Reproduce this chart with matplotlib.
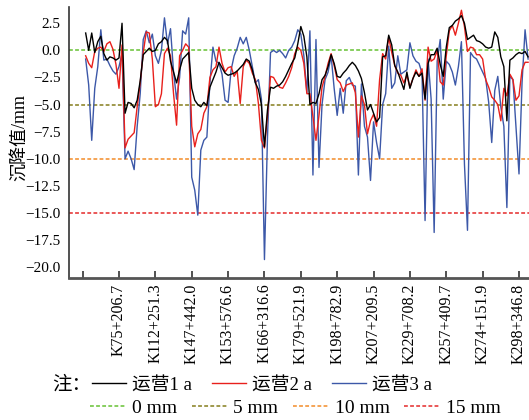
import numpy as np
import matplotlib
matplotlib.use("Agg")
import matplotlib.pyplot as plt
from matplotlib.ticker import FixedLocator, FuncFormatter

plt.rcParams['font.family'] = ['Liberation Serif', 'Noto Sans CJK SC', 'DejaVu Sans']
plt.rcParams['axes.unicode_minus'] = True

# Settlement (mm) of three operating years along the line (sample index)
op1 = [1.6, 0.0, 1.6, -0.2, 0.8, 1.3, -0.3, -0.9, -0.6, -0.7,
       -0.9, -0.7, 2.5, -5.8, -4.8, -4.9, -5.3, -4.6, -2.8, -0.4,
       -0.1, 0.2, -0.1, 0.0, 0.6, 0.8, 1.2, 0.9, -1.0, -2.0,
       -3.0, -1.8, -0.8, -0.5, -0.2, -3.5, -4.6, -5.0, -5.2, -4.8,
       -5.1, -3.4, -2.7, -2.0, -1.1, -1.6, -2.1, -2.3, -2.2, -2.1,
       -1.9, -1.6, -1.3, -0.8, -1.0, -1.8, -3.0, -3.6, -5.0, -8.9,
       -5.5, -3.4, -3.5, -3.3, -3.2, -2.9, -2.4, -1.8, -1.2, -0.7,
       0.6, 2.2, 1.3, -0.6, -5.0, -4.8, -4.9, -4.0, -2.7, -2.3,
       -1.5, -0.4, -1.2, -2.4, -2.5, -2.1, -1.8, -1.4, -1.1, -1.4,
       -1.9, -2.6, -3.9, -5.5, -5.0, -5.8, -6.6, -6.2, -0.6, -0.5,
       1.4, 0.5, -1.4, -2.0, -2.8, -3.6, -2.0, -3.5, -2.6, -2.0,
       -2.4, -2.1, -4.5, -1.2, -0.4, -0.4, 0.2, -1.3, -2.4, 0.3,
       2.1, 2.3, 2.7, 2.9, 3.2, 2.5, 1.0, 1.2, 1.4, 0.9,
       0.8, 0.6, 0.3, 0.2, 0.3, 1.7, 1.2, -0.6, -1.5, -6.5,
       -0.9, -0.7, -0.4, -0.2, -0.3, -0.1, -0.6]

op2 = [-0.5, -1.2, -1.6, -0.1, 0.2, 0.3, -0.1, 0.6, 0.8, 0.1,
       -1.3, -3.5, 0.5, -9.0, -8.2, -7.9, -7.6, -5.2, -3.0, -0.2,
       1.7, 1.6, -0.8, -5.2, -5.0, -4.0, -0.3, 0.2, -0.5, -4.0,
       -6.9, -0.5, 0.0, 0.6, 0.3, -7.0, -8.9, -7.7, -7.3, -5.8,
       -5.2, -2.5, -1.8, -1.5, 0.3, -1.2, -2.0, -1.6, -1.5, -2.4,
       -1.9, -4.9, -1.5, -0.9, -1.2, -2.1, -2.7, -4.9, -8.3, -9.0,
       -6.0, -2.4, -2.5, -3.0, -3.4, -3.5, -3.0, -2.4, -1.6, -0.3,
       0.3, 0.0, -1.2, -4.0, -4.0, -6.1, -8.3, -6.0, -3.4, -2.4,
       -1.2, -0.3, -1.4, -2.7, -3.0, -3.8, -3.2, -3.1, -3.0, -3.9,
       -8.0, -4.2, -5.0, -7.7, -6.5, -5.9, -7.0, -2.7, -0.3, -0.8,
       1.2, -0.2, -1.4, -2.1, -2.3, -3.0, -2.3, -3.4, -2.6, -1.8,
       -2.4, -1.7, -4.6, 0.3, -1.0, -0.8, 0.0, -2.9, -3.2, -0.5,
       1.8, 2.3, 1.4, 2.5, 3.7, 2.2, -0.1, 0.3, 0.2, -0.4,
       -0.4, -0.8, -2.7, -3.4, -4.3, -4.6, -5.0, -6.5, -3.5, -4.2,
       -2.2, -2.7, -4.6, -4.2, -1.8, -1.1, -1.1]

op3 = [-0.8, -3.2, -8.3, -3.5, -1.5, 1.9, -0.9, -0.8, -1.4, -1.9,
       -2.2, -1.5, -0.3, -10.0, -9.3, -10.0, -11.0, -7.0, -4.0, 1.0,
       1.8, 0.7, 1.5, -0.5, -1.2, 0.0, 3.0, 0.6, 2.0, -2.0,
       -4.5, -2.5, 1.8, 1.5, 3.0, -11.7, -12.9, -15.2, -9.2, -8.3,
       -8.0, -3.0, 0.3, -1.0, -1.2, -2.2, -4.6, -4.8, -1.8, -0.5,
       0.2, 1.2, 0.6, 1.2, 0.0, -1.5, -3.0, -2.7, -4.5, -19.3,
       -8.0, -0.2, 0.0, -0.2, 0.0, -0.3, -0.7, 0.0, 0.3, 0.9,
       1.9, 1.5, -0.5, -3.9, 1.8, -11.5, 1.0, -10.8, -5.0, -2.7,
       -2.0, -0.5, -3.5, -6.0, -3.5, -5.8, -2.8, -2.5, -3.2, -3.3,
       -11.5, -3.1, -7.0, -8.0, -12.0, -6.6, -8.5, -10.0, -5.0, -4.0,
       0.4, -3.5, -3.0, -0.5, -2.2, -2.0, -1.8, 0.7, -0.5, -1.0,
       -1.2, -2.1, -15.7, -0.8, -4.5, -16.8, -1.0, 1.0, -4.5, -1.0,
       -1.3, -2.0, -3.2, -1.5, 0.8, -10.5, -16.6, -0.2, -0.6, -0.8,
       -1.4, -2.0, -2.6, -4.8, -8.5, -3.7, -2.4, -5.2, -7.0, -14.5,
       -2.4, -2.7, -7.0, -11.4, -3.0, 1.9, -0.8]

series_labels = ['运营1 a', '运营2 a', '运营3 a']
series_colors = ['#000000', '#e8201c', '#3c58a8']

thresholds = [0, -5, -10, -15]
threshold_labels = ['0 mm', '5 mm', '10 mm', '15 mm']
threshold_colors = ['#66c133', '#857d1c', '#f28c28', '#e42a2a']

xtick_pos = [0, 12, 24, 36, 48, 60, 72, 84, 96, 108, 120, 132, 144]
xtick_labels = ['', 'K75+206.7', 'K112+251.3', 'K147+442.0', 'K153+576.6',
                'K166+316.6', 'K179+521.9', 'K198+782.9', 'K207+209.5',
                'K229+708.2', 'K257+409.7', 'K274+151.9', 'K298+346.8']
ytick_vals = [2.5, 0.0, -2.5, -5.0, -7.5, -10.0, -12.5, -15.0, -17.5, -20.0]

W, H = 529, 420
fig = plt.figure(figsize=(W / 100, H / 100), dpi=100)
ax = fig.add_axes([69 / W, 1 - 278 / H, 1 - 69 / W, (278 - 7) / H])

x = np.arange(1, len(op1) + 1)
lines = {}
for vals, lab, col, z in [(op3, series_labels[2], series_colors[2], 2),
                          (op2, series_labels[1], series_colors[1], 3),
                          (op1, series_labels[0], series_colors[0], 4)]:
    ln, = ax.plot(x, vals, color=col, lw=1.0, zorder=z)
    lines[lab] = ln

th_handles = []
for t, col in zip(thresholds, threshold_colors):
    h = ax.axhline(t, color=col, lw=1.1, ls=(0, (2.5, 1.5)), zorder=1)
    th_handles.append(h)

ax.set_xlim(-4.5, 147.3)
ax.set_ylim(-21, 4)
ax.xaxis.set_major_locator(FixedLocator(xtick_pos))
ax.set_xticklabels(xtick_labels, rotation=90, fontsize=11.5)
ax.yaxis.set_major_locator(FixedLocator(ytick_vals))
ax.yaxis.set_major_formatter(FuncFormatter(lambda v, p: f"{v:.1f}".replace('-', '\u2212')))
ax.tick_params(axis='y', length=0, pad=6, labelsize=11)
ax.tick_params(axis='x', direction='in', length=5, width=1.2, pad=4, color='#333333')

for s in ['top', 'right']:
    ax.spines[s].set_visible(False)
ax.spines['left'].set_color('#333333')
ax.spines['left'].set_linewidth(1.2)
ax.spines['bottom'].set_color('#555555')
ax.spines['bottom'].set_linewidth(2.0)

ax.set_ylabel('沉降值/mm', fontsize=13)
ax.yaxis.set_label_coords(-0.09, 0.52)

fig.text(52 / W, 1 - 385 / H, '注：', fontsize=14, va='center', ha='left')
leg1 = fig.legend([lines[l] for l in series_labels], series_labels, ncol=3,
                  loc='center left', bbox_to_anchor=(92 / W, 1 - 385 / H),
                  frameon=False, fontsize=13.5, handlelength=1.8,
                  handletextpad=0.35, columnspacing=1.05, borderpad=0,
                  borderaxespad=0)
leg2 = fig.legend(th_handles, threshold_labels, ncol=4,
                  loc='center left', bbox_to_anchor=(90 / W, 1 - 408 / H),
                  frameon=False, fontsize=14, handlelength=1.85,
                  handletextpad=0.3, columnspacing=0.75, borderpad=0,
                  borderaxespad=0)

fig.savefig('out.png', dpi=100)
